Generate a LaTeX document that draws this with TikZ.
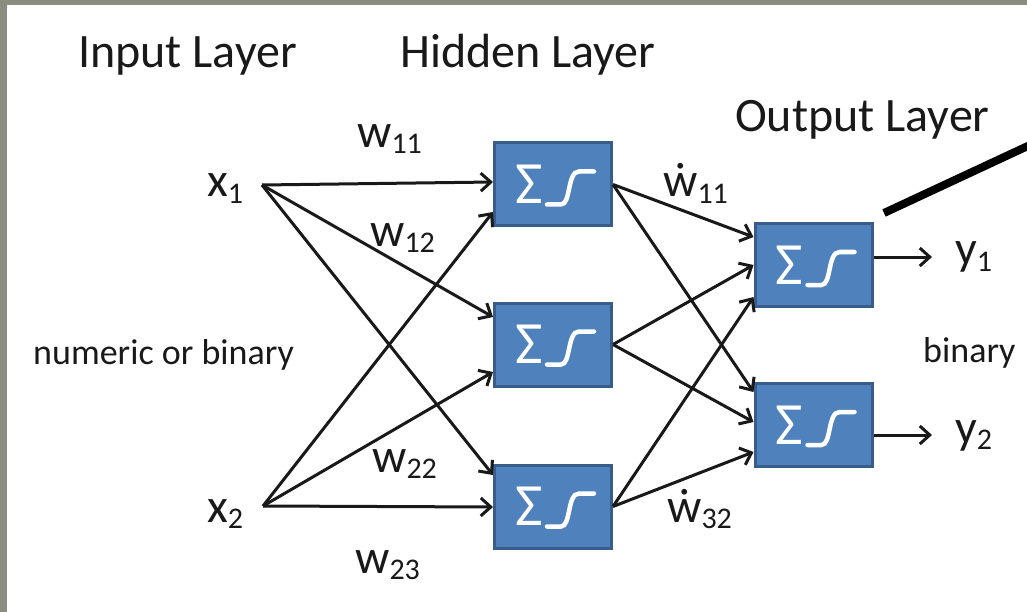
\documentclass[tikz,border=0pt]{standalone}
\usepackage{fontspec}
\setmainfont{Carlito}
\usetikzlibrary{arrows.meta}
\definecolor{framegray}{RGB}{139,141,127}
\definecolor{boxfill}{RGB}{79,129,189}
\definecolor{boxline}{RGB}{56,93,138}
\definecolor{ink}{RGB}{25,25,25}
\newcommand\subx[1]{\raisebox{-6pt}{\fontsize{30}{30}\selectfont #1}}
\newcommand\unitglyph[1]{%
  \begin{scope}[shift={(#1.center)}]
    \node[text=white, font=\fontsize{60}{60}\selectfont, inner sep=0] (#1sig) at (-24,0) {Σ};
    \draw[white, line width=4.5pt, line cap=round] (-6,20) -- (8,20) .. controls (18,20) and (14,-13) .. (26,-13) -- (41,-13);
  \end{scope}}
\tikzset{
  lab/.style={anchor=base west, inner sep=0, text=ink, font=\fontsize{48}{48}\selectfont},
  smalllab/.style={anchor=base west, inner sep=0, text=ink, font=\fontsize{36}{36}\selectfont},
  unit/.style={draw=boxline, fill=boxfill, line width=3pt, minimum width=117pt, minimum height=83pt, inner sep=0pt},
  conn/.style={draw=ink, line width=3pt, -{Straight Barb[length=10pt,width=18pt]}},
}
\begin{document}
\begin{tikzpicture}[x=1pt,y=-1pt]
\useasboundingbox (0,0) rectangle (1027,612);
\clip (0,0) rectangle (1027,612);
\fill[framegray] (0,0) rectangle (1027,612);
\fill[white] (7,5) rectangle (1027,612);

% headings
\node[lab] (hin) at (78,68) {Input Layer};
\node[lab] (hhid) at (400,68) {Hidden Layer};
\node[lab] (hout) at (735,132) {Output Layer};

% side texts
\node[smalllab] (numbin) at (33,364) {numeric or binary};
\node[smalllab] (bin) at (923,362) {binary};

% inputs
\node[lab] (x1) at (207,197) {x\subx{1}};
\node[lab] (x2) at (207,522) {x\subx{2}};
\coordinate (x1p) at (262,185);
\coordinate (x2p) at (263,506);

% hidden units
\node[unit] (h1) at (553,184.5) {};
\node[unit] (h2) at (553,344.5) {};
\node[unit] (h3) at (553,506.5) {};
% output units
\node[unit] (o1) at (813.5,265) {};
\node[unit] (o2) at (813.5,425) {};
\unitglyph{h1}
\unitglyph{h2}
\unitglyph{h3}
\unitglyph{o1}
\unitglyph{o2}

% input -> hidden
\draw[conn] (x1p) -- ([yshift=2.5pt]h1.west);
\draw[conn] (x1p) -- ([yshift=27.5pt]h2.west);
\draw[conn] (x1p) -- ([yshift=31.5pt]h3.west);
\draw[conn] (x2p) -- ([yshift=-27.5pt]h1.west);
\draw[conn] (x2p) -- ([yshift=-27.5pt]h2.west);
\draw[conn] (x2p) -- ([yshift=-0.5pt]h3.west);

% hidden -> output
\draw[conn] (h1.east) -- ([yshift=28pt]o1.west);
\draw[conn] (h2.east) -- ([yshift=0pt]o1.west);
\draw[conn] (h3.east) -- ([yshift=-32pt]o1.west);
\draw[conn] (h1.east) -- ([yshift=33pt]o2.west);
\draw[conn] (h2.east) -- ([yshift=3pt]o2.west);
\draw[conn] (h3.east) -- ([yshift=-27pt]o2.west);

% outputs
\coordinate (y1e) at (932,257);
\coordinate (y2e) at (932,435);
\draw[conn] ([yshift=8pt]o1.east) -- (y1e);
\draw[conn] ([yshift=-10pt]o2.east) -- (y2e);
\node[lab] (y1) at (955,265) {y\subx{1}};
\node[lab] (y2) at (955,443) {y\subx{2}};

% weight labels
\node[lab] (w11) at (357,148) {w\subx{11}};
\node[lab] (w12) at (370,247) {w\subx{12}};
\node[lab] (w22) at (372,472) {w\subx{22}};
\node[lab] (w23) at (355,573) {w\subx{23}};
\node[lab] (v11) at (663,197) {ẇ\subx{11}};
\node[lab] (v32) at (667,522) {ẇ\subx{32}};

% thick pointer line
\coordinate (pa) at (884,213);
\coordinate (pb) at (1045,138);
\draw[line width=8pt, black] (pa) -- (pb);
\end{tikzpicture}
\end{document}
